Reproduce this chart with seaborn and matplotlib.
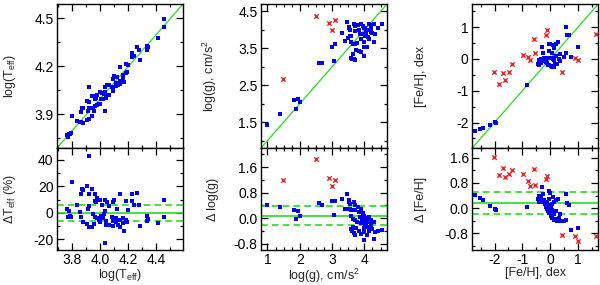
import matplotlib
matplotlib.use("Agg")
import matplotlib.pyplot as plt
from matplotlib.ticker import MultipleLocator
import pandas as pd
import seaborn as sns

# --- effective temperature: reference, fitted, residual (%) ---
teff_ref = [3.918, 3.798, 3.906, 3.866, 3.875, 3.859, 3.941, 3.920, 3.958, 3.977,
            3.960, 3.970, 4.000, 4.033, 4.047, 4.100, 4.087, 4.142, 4.180, 4.226,
            4.260, 4.224, 4.240, 4.276, 3.833, 3.908, 3.920, 4.064, 4.455, 3.758,
            3.774, 3.786, 3.769, 3.793, 3.852, 3.864, 3.875, 3.904, 3.918, 3.941,
            3.947, 3.963, 3.977, 3.989, 4.005, 4.017, 4.029, 4.041, 4.036, 4.041,
            4.064, 4.090, 4.111, 4.125, 4.139, 4.163, 4.193, 4.036, 4.170, 4.085,
            4.090, 4.113, 4.137, 4.160, 4.184, 4.335, 4.340, 4.333, 4.408, 4.457,
            4.285, 3.995, 3.955, 4.010, 4.120, 4.200]
teff_fit = [4.073, 3.890, 3.985, 3.938, 3.943, 3.916, 4.013, 3.977, 4.015, 4.022,
            3.997, 4.003, 4.041, 4.074, 4.083, 4.141, 4.120, 4.199, 4.217, 4.283,
            4.321, 4.261, 4.265, 4.301, 3.857, 3.921, 3.941, 4.085, 4.496, 3.771,
            3.780, 3.777, 3.757, 3.781, 3.854, 3.852, 3.845, 3.866, 3.870, 3.893,
            3.943, 3.950, 3.962, 3.967, 3.996, 3.999, 4.025, 4.014, 4.042, 4.000,
            4.023, 4.044, 4.079, 4.082, 4.092, 4.129, 4.163, 3.922, 4.105, 4.072,
            4.063, 4.095, 4.112, 4.144, 4.162, 4.326, 4.320, 4.305, 4.375, 4.445,
            4.239, 3.963, 3.919, 4.035, 4.133, 4.209]
teff_diff = [43.0, 23.5, 20.0, 18.0, 17.0, 14.0, 18.0, 14.0, 14.0, 11.0,
             9.0, 8.0, 10.0, 10.0, 8.6, 10.0, 8.0, 14.0, 9.0, 14.0,
             15.0, 9.0, 6.0, 6.0, 5.6, 3.0, 5.0, 5.0, 10.0, 3.0,
             1.3, -2.0, -2.8, -2.8, 0.5, -2.8, -6.6, -8.4, -10.4, -10.4,
             -1.0, -3.0, -3.5, -5.0, -2.0, -4.0, -1.0, -6.0, 1.3, -9.0,
             -9.0, -10.0, -7.0, -9.5, -10.4, -7.5, -6.6, -23.0, -14.0, -3.0,
             -6.0, -4.0, -5.5, -3.5, -5.0, -2.0, -4.6, -6.3, -7.3, -2.8,
             -10.0, -7.0, -8.0, 6.0, 3.0, 2.0]

# --- surface gravity ---
logg_ref = [1.00, 1.38, 1.83, 1.93, 1.88, 2.00, 2.61, 2.69, 2.99, 3.10,
            3.05, 3.31, 3.46, 3.51, 3.53, 3.56, 3.67, 3.70, 3.40, 3.48,
            3.55, 3.60, 3.72, 3.80, 3.82, 3.88, 3.60, 3.64, 3.70, 3.77,
            3.58, 3.62, 3.67, 3.72, 3.64, 3.95, 3.98, 4.03, 4.08, 4.13,
            4.01, 4.06, 4.10, 3.98, 4.00, 4.14, 4.24, 4.34, 4.43, 4.53,
            4.22, 4.29, 4.31, 3.82, 3.88, 4.14, 4.19, 3.98, 4.08, 3.93,
            3.90, 4.05, 3.85, 3.75, 4.20]
logg_fit = [1.42, 1.72, 2.09, 2.14, 1.86, 2.06, 3.09, 3.09, 3.54, 3.63,
            3.16, 3.91, 4.22, 4.08, 4.05, 4.01, 4.17, 4.10, 3.70, 3.78,
            3.84, 3.84, 3.96, 4.14, 4.01, 4.17, 3.68, 3.62, 3.63, 3.64,
            3.25, 3.21, 3.20, 3.18, 3.36, 4.11, 4.06, 4.04, 4.01, 4.01,
            3.83, 3.83, 3.82, 3.68, 3.30, 3.75, 3.91, 3.90, 4.04, 4.16,
            4.04, 4.16, 3.66, 3.43, 3.39, 4.17, 4.12, 3.54, 3.54, 3.88,
            3.75, 3.95, 3.90, 3.45, 3.95]
logg_diff = [0.42, 0.34, 0.26, 0.21, -0.02, 0.06, 0.48, 0.40, 0.55, 0.53,
             0.11, 0.60, 0.76, 0.57, 0.52, 0.45, 0.50, 0.40, 0.30, 0.30,
             0.29, 0.24, 0.24, 0.34, 0.19, 0.29, 0.08, -0.02, -0.07, -0.13,
             -0.33, -0.41, -0.47, -0.54, -0.28, 0.16, 0.08, 0.01, -0.07, -0.12,
             -0.18, -0.23, -0.28, -0.30, -0.70, -0.39, -0.33, -0.44, -0.39, -0.37,
             -0.18, -0.13, -0.65, -0.39, -0.49, 0.03, -0.07, -0.44, -0.54, -0.05,
             -0.15, -0.10, 0.05, -0.30, -0.25]
logg_out_ref = [2.51, 1.49, 2.92, 3.10, 2.99]
logg_out_fit = [4.37, 2.67, 4.18, 4.28, 4.01]
logg_out_diff = [1.86, 1.18, 1.26, 1.18, 1.02]

# --- metallicity ---
feh_ref = [-2.69, -2.51, -2.43, -2.15, -1.97, -1.95, -0.84, -0.42, -0.32, -0.24,
           -0.27, -0.18, -0.30, -0.06, 0.00, -0.39, -0.32, -0.12, -0.06, -0.02,
           0.04, 0.08, -0.08, -0.03, 0.02, 0.06, 0.12, 0.18, 0.24, 0.13,
           0.22, 0.26, 0.56, 0.60, 0.66, 0.99, 0.74, 0.48, 0.36, 0.57,
           0.10, 0.15, -0.15, -0.10, 0.05, -0.20, 0.30, 0.20, -0.05, 0.10,
           0.35, -0.45]
feh_fit = [-2.27, -2.19, -2.17, -2.07, -1.99, -2.00, -0.81, -0.05, 0.00, 0.02,
           0.17, 0.03, 0.37, 0.47, 0.48, -0.18, -0.14, 0.03, 0.04, 0.03,
           0.04, 0.03, -0.18, -0.18, -0.22, -0.25, -0.25, -0.17, -0.16, 0.34,
           0.48, 0.54, 1.01, 0.75, 0.75, 0.36, 0.05, 0.06, -0.06, 0.18,
           -0.02, -0.05, -0.10, -0.12, 0.17, -0.08, 0.00, 0.10, 0.25, 0.45,
           0.15, -0.15]
feh_diff = [0.42, 0.32, 0.26, 0.08, -0.02, -0.05, 0.03, 0.37, 0.32, 0.26,
            0.44, 0.21, 0.67, 0.53, 0.48, 0.21, 0.18, 0.15, 0.10, 0.05,
            0.00, -0.05, -0.10, -0.15, -0.24, -0.31, -0.37, -0.35, -0.40, 0.21,
            0.26, 0.28, 0.45, 0.15, 0.09, -0.63, -0.69, -0.42, -0.42, -0.39,
            -0.12, -0.20, 0.05, -0.02, 0.12, 0.12, -0.30, -0.10, 0.30, 0.35,
            -0.20, 0.30]
feh_out_ref = [-2.01, -1.71, -1.83, -1.64, -1.49, -1.37, -0.96, -0.60, -0.80, -0.74,
               -0.54, -0.16, -0.10, 0.42, 0.90, 0.99, 1.65]
feh_out_fit = [-0.40, -0.45, -0.78, -0.65, -0.40, -0.16, 0.13, 0.63, 0.05, -0.03,
               0.18, 0.75, 0.91, -0.42, 0.02, -0.05, 0.78]
feh_out_diff = [1.61, 1.26, 1.05, 0.99, 1.09, 1.21, 1.09, 1.23, 0.85, 0.71,
                0.72, 0.91, 1.01, -0.84, -0.88, -1.04, -0.87]

# residual mean and 1-sigma band per quantity
teff_band = (0.0, 6.0)
logg_band = (0.08, 0.30)
feh_band = (0.16, 0.34)

sns.set_style("ticks")
plt.rcParams["font.family"] = ["Liberation Sans", "DejaVu Sans"]
plt.rcParams["mathtext.default"] = "regular"
plt.rcParams["axes.unicode_minus"] = False
plt.rcParams["font.size"] = 10

GREEN = "#22dd22"
BLUE = "#0000ee"
RED = "#ee2222"
LABEL_SIZE = 9


def style_axis(ax, xmaj, xmin, ymaj, ymin, yoff=0.0):
    ax.xaxis.set_major_locator(MultipleLocator(xmaj))
    ax.xaxis.set_minor_locator(MultipleLocator(xmin))
    ax.yaxis.set_major_locator(MultipleLocator(ymaj, offset=yoff))
    ax.yaxis.set_minor_locator(MultipleLocator(ymin, offset=yoff))
    ax.tick_params(which="both", direction="in", top=True, right=True,
                   width=0.9, labelsize=10, colors="black", pad=2.5)
    ax.tick_params(which="major", length=5)
    ax.tick_params(which="minor", length=2.5)
    for spine in ax.spines.values():
        spine.set_linewidth(1.0)
        spine.set_color("black")


def draw_column(left, ref, fit, diff, out, lims, dlims, band, labels, ticks, label_x):
    width = 0.21
    ax_top = fig.add_axes([left, 0.4807, width, 0.505])
    ax_bot = fig.add_axes([left, 0.1228, width, 0.358])

    main = pd.DataFrame({"ref": ref, "fit": fit, "diff": diff})
    ax_top.axline((lims[0], lims[0]), slope=1, color=GREEN, lw=0.9, zorder=1)
    sns.scatterplot(data=main, x="ref", y="fit", ax=ax_top, marker="s", s=5,
                    color=BLUE, edgecolor=BLUE, linewidth=0, zorder=3)
    sns.scatterplot(data=main, x="ref", y="diff", ax=ax_bot, marker="s", s=5,
                    color=BLUE, edgecolor=BLUE, linewidth=0, zorder=3)
    if out is not None:
        bad = pd.DataFrame({"ref": out[0], "fit": out[1], "diff": out[2]})
        sns.scatterplot(data=bad, x="ref", y="fit", ax=ax_top, marker="x", s=10,
                        color=RED, linewidth=1.0, zorder=3)
        sns.scatterplot(data=bad, x="ref", y="diff", ax=ax_bot, marker="x", s=10,
                        color=RED, linewidth=1.0, zorder=3)

    mean, sig = band
    ax_bot.axhline(mean, color=GREEN, lw=1.2, zorder=1)
    ax_bot.axhline(mean + sig, color=GREEN, lw=1.2, ls=(0, (4, 2.5)), zorder=1)
    ax_bot.axhline(mean - sig, color=GREEN, lw=1.2, ls=(0, (4, 2.5)), zorder=1)

    ax_top.set_xlim(lims)
    ax_top.set_ylim(lims)
    ax_bot.set_xlim(lims)
    ax_bot.set_ylim(dlims)

    xmaj, xmin, ymaj, ymin, yoff, dmaj, dmin = ticks
    style_axis(ax_top, xmaj, xmin, ymaj, ymin, yoff)
    style_axis(ax_bot, xmaj, xmin, dmaj, dmin)
    ax_top.tick_params(labelbottom=False)

    ax_top.set_xlabel("")
    ax_top.set_ylabel(labels[0], fontsize=LABEL_SIZE)
    ax_bot.set_ylabel(labels[1], fontsize=LABEL_SIZE)
    ax_bot.set_xlabel(labels[2], fontsize=LABEL_SIZE, labelpad=0)
    ax_top.yaxis.set_label_coords(label_x, 0.5)
    ax_bot.yaxis.set_label_coords(label_x, 0.5)
    ax_bot.xaxis.set_label_coords(0.5, -0.165)


fig = plt.figure(figsize=(6, 2.85), dpi=100)

draw_column(0.095, teff_ref, teff_fit, teff_diff, None,
            (3.69, 4.59), (-28, 49), teff_band,
            ["log(T$_{eff}$)", "ΔT$_{eff}$ (%)", "log(T$_{eff}$)"],
            (0.2, 0.1, 0.3, 0.15, 0.0, 20, 10), -0.31)
draw_column(0.435, logg_ref, logg_fit, logg_diff,
            (logg_out_ref, logg_out_fit, logg_out_diff),
            (0.8, 4.7), (-1.0, 2.2), logg_band,
            ["log(g), cm/s$^2$", "Δ log(g)", "log(g), cm/s$^2$"],
            (1, 0.25, 1, 0.5, 0.5, 0.8, 0.4), -0.33)
draw_column(0.787, feh_ref, feh_fit, feh_diff,
            (feh_out_ref, feh_out_fit, feh_out_diff),
            (-2.8, 1.72), (-1.33, 1.91), feh_band,
            ["[Fe/H], dex", "Δ [Fe/H]", "[Fe/H], dex"],
            (1, 0.5, 1, 0.5, 0.0, 0.8, 0.4), -0.36)

fig.savefig("out.png", dpi=100)
